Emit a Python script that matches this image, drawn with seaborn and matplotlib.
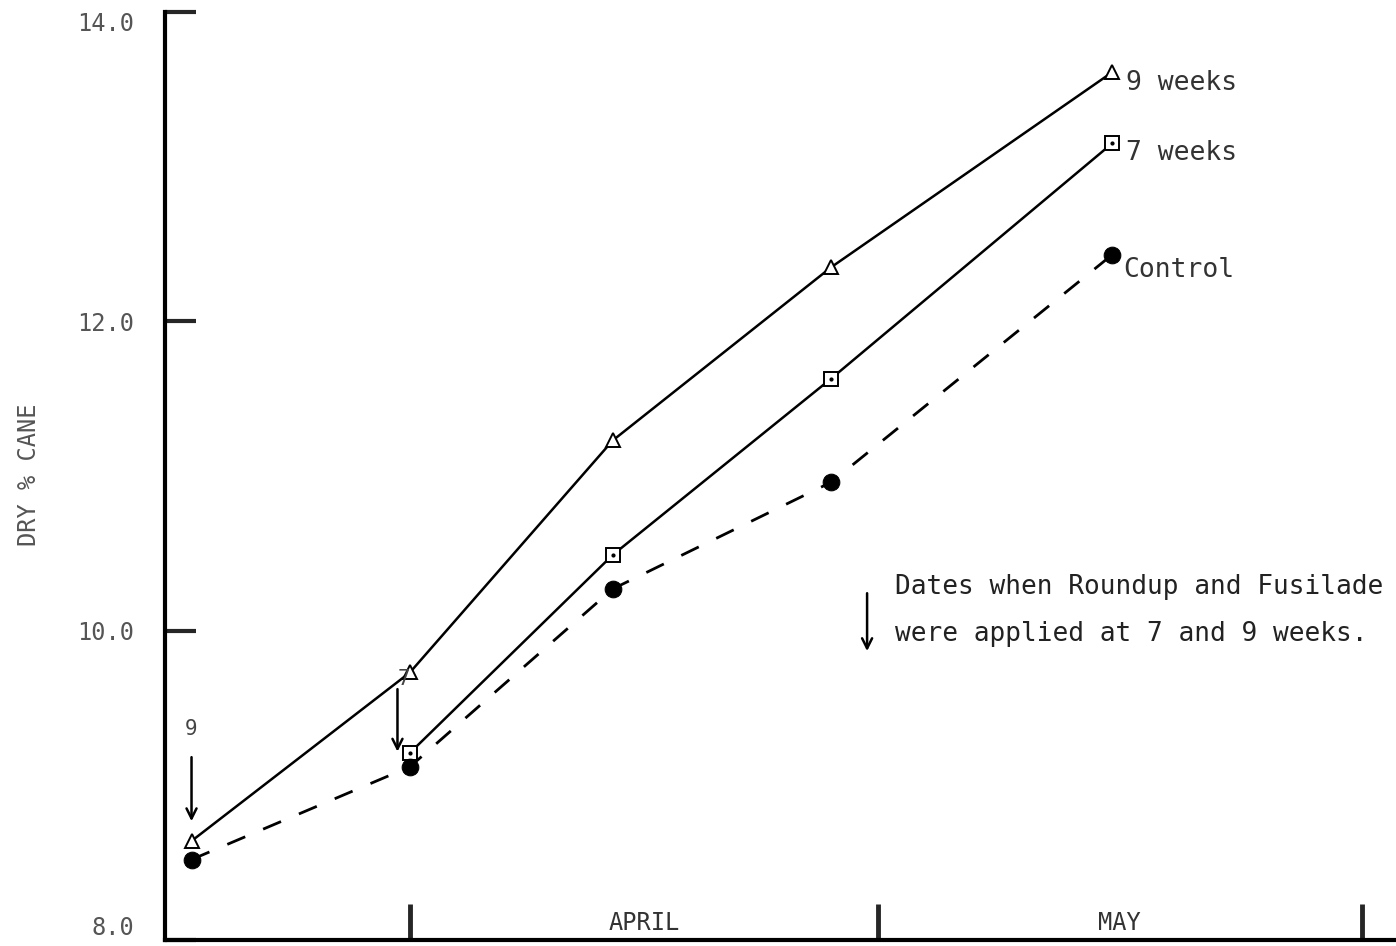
import matplotlib
matplotlib.use("Agg")
import matplotlib.pyplot as plt
import seaborn as sns
import pandas as pd

# Days relative to 1 April (sampling dates)
days_all = [-14, 0, 13, 27, 45]
days_7wk = [0, 13, 27, 45]
nine_weeks = [8.64, 9.73, 11.23, 12.35, 13.61]
seven_weeks = [9.21, 10.49, 11.63, 13.15]
control = [8.52, 9.12, 10.27, 10.96, 12.43]

month_ticks = [0, 30, 61]
month_labels = ["APRIL", "MAY"]
month_label_pos = [15, 45.5]
y_ticks = [8.0, 10.0, 12.0, 14.0]
series_names = ["9 weeks", "7 weeks", "Control"]
note_lines = ["Dates when Roundup and Fusilade", "were applied at 7 and 9 weeks."]
ylabel = "DRY % CANE"

sns.set_style("white")
plt.rcParams["font.family"] = ["DejaVu Sans Mono"]

fig = plt.figure(figsize=(13.96, 9.46), dpi=100)
ax = fig.add_axes([165 / 1396, 6 / 946, 1 - 165 / 1396, 928 / 946])

df9 = pd.DataFrame({"day": days_all, "val": nine_weeks})
df7 = pd.DataFrame({"day": days_7wk, "val": seven_weeks})
dfc = pd.DataFrame({"day": days_all, "val": control})

sns.lineplot(data=df9, x="day", y="val", ax=ax, color="black", lw=1.8,
             marker="^", markersize=10, markerfacecolor="white",
             markeredgecolor="black", markeredgewidth=1.4, zorder=3)
sns.lineplot(data=df7, x="day", y="val", ax=ax, color="black", lw=1.8,
             marker="s", markersize=10, markerfacecolor="white",
             markeredgecolor="black", markeredgewidth=1.4, zorder=3)
sns.lineplot(data=dfc, x="day", y="val", ax=ax, color="black", lw=2.0,
             marker="o", markersize=12, markerfacecolor="black",
             markeredgecolor="black", zorder=3, dashes=False)
ax.lines[-1].set_dashes([7, 7])
# dot inside squares
ax.scatter(days_7wk, seven_weeks, s=4, color="black", zorder=4)

ax.set_xlim(-15.7, 63.2)
ax.set_ylim(8.0, 14.0)
ax.set_xticks(month_ticks)
ax.set_xticklabels([])
ax.set_yticks(y_ticks)
ax.set_yticklabels([f"{v:.1f}" for v in y_ticks], color="#555555", fontsize=17)
ax.get_yticklabels()[0].set_verticalalignment("bottom")
ax.get_yticklabels()[-1].set_verticalalignment("top")
ax.tick_params(axis="y", direction="in", length=22, width=3, pad=22, left=True)
ax.tick_params(axis="x", direction="in", length=26, width=3.5, bottom=True)
ax.set_xlabel("")
ax.set_ylabel("")
fig.text(29 / 1396, 1 - 475 / 946, ylabel, rotation=90, ha="center", va="center",
         color="#555555", fontsize=17)

for side in ["top", "right"]:
    ax.spines[side].set_visible(False)
for side in ["left", "bottom"]:
    ax.spines[side].set_linewidth(3)
    ax.spines[side].set_color("black")

for pos, lab in zip(month_label_pos, month_labels):
    ax.text(pos, 8.03, lab, ha="center", va="bottom", fontsize=17, color="#333333")

# series labels at line ends
ax.text(45.9, nine_weeks[-1] - 0.07, series_names[0], ha="left", va="center",
        fontsize=19, color="#333333")
ax.text(45.9, seven_weeks[-1] - 0.06, series_names[1], ha="left", va="center",
        fontsize=19, color="#333333")
ax.text(45.7, control[-1] - 0.1, series_names[2], ha="left", va="center",
        fontsize=19, color="#333333")

# application arrows
ax.annotate("", xy=(-14, 8.75), xytext=(-14, 9.2),
            arrowprops=dict(arrowstyle="->", lw=1.8, color="black",
                            mutation_scale=18))
ax.text(-14, 9.3, "9", ha="center", va="bottom", fontsize=15, color="#444444")
ax.annotate("", xy=(-0.8, 9.2), xytext=(-0.8, 9.64),
            arrowprops=dict(arrowstyle="->", lw=1.8, color="black",
                            mutation_scale=18))
ax.text(-0.4, 9.62, "7", ha="center", va="bottom", fontsize=15, color="#444444")

# note
ax.annotate("", xy=(29.3, 9.85), xytext=(29.3, 10.26),
            arrowprops=dict(arrowstyle="->", lw=1.8, color="black",
                            mutation_scale=18))
ax.text(31.1, 10.28, note_lines[0], ha="left", va="center", fontsize=18.8,
        color="#222222", clip_on=False)
ax.text(31.1, 9.98, note_lines[1], ha="left", va="center", fontsize=18.8,
        color="#222222", clip_on=False)

fig.savefig("out.png", dpi=100)
